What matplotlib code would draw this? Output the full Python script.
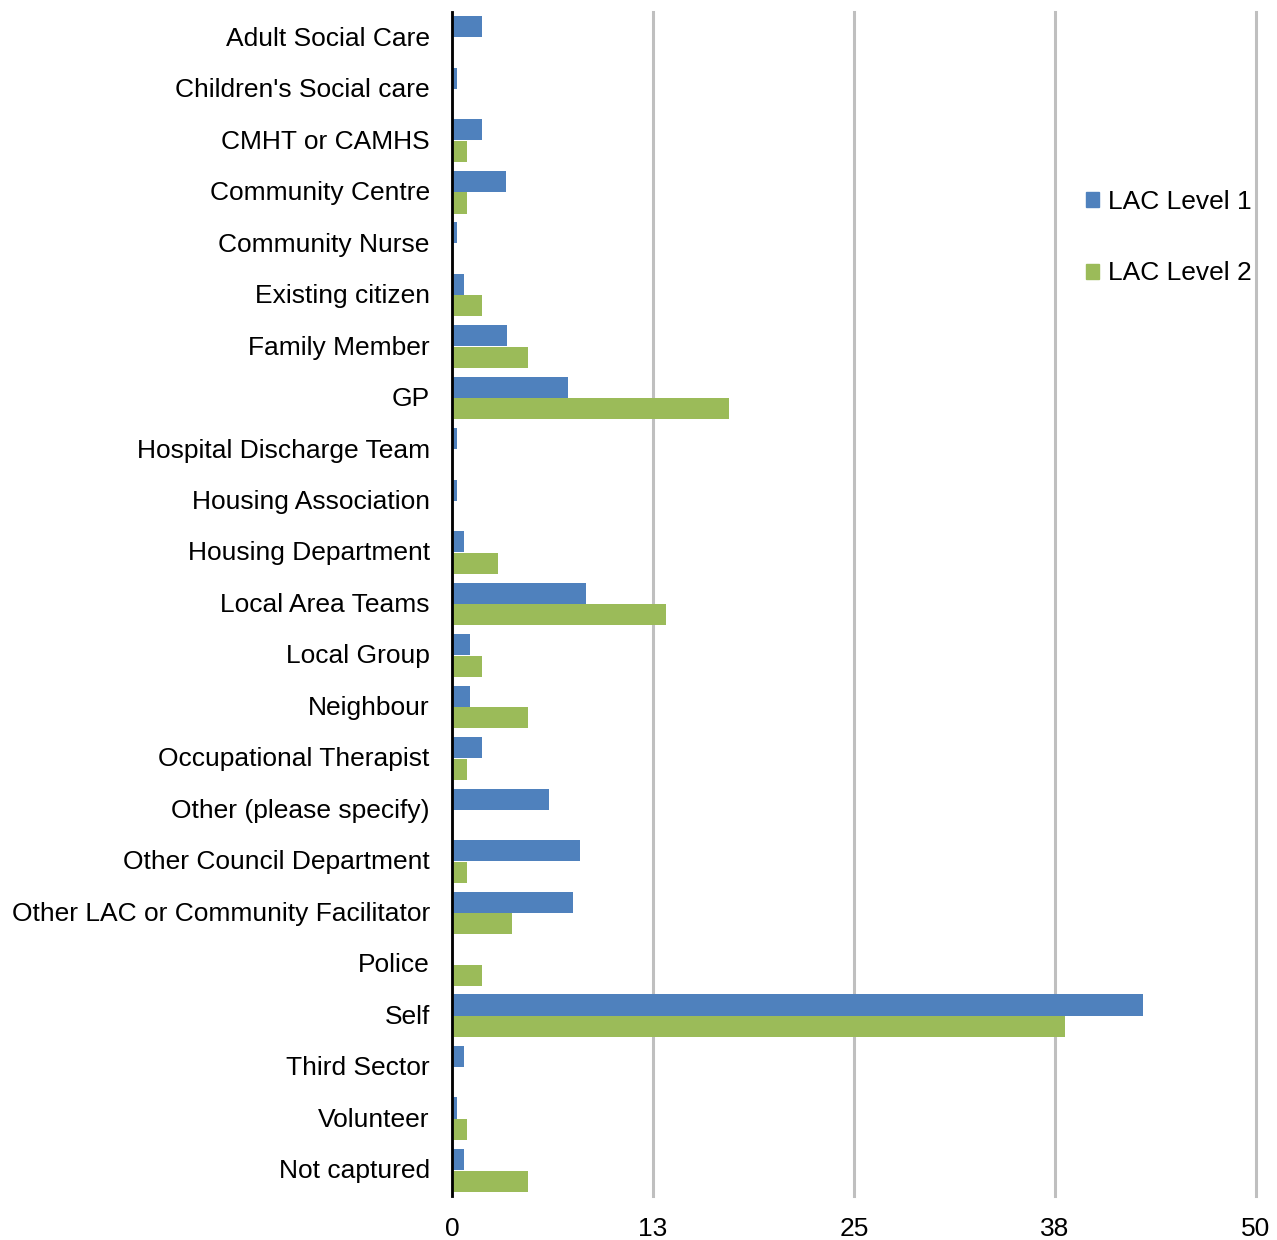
import matplotlib.pyplot as plt
from matplotlib.patches import Patch
import numpy as np

plt.rcParams["font.family"] = ["Liberation Sans", "DejaVu Sans"]

categories = [
    "Adult Social Care", "Children's Social care", "CMHT or CAMHS",
    "Community Centre", "Community Nurse", "Existing citizen",
    "Family Member", "GP", "Hospital Discharge Team", "Housing Association",
    "Housing Department", "Local Area Teams", "Local Group", "Neighbour",
    "Occupational Therapist", "Other (please specify)",
    "Other Council Department", "Other LAC or Community Facilitator",
    "Police", "Self", "Third Sector", "Volunteer", "Not captured",
]
level1 = [1.87, 0.3, 1.87, 3.36, 0.3, 0.75, 3.42, 7.2, 0.3, 0.3,
          0.75, 8.33, 1.12, 1.12, 1.87, 6.03, 7.94, 7.54,
          0.0, 43.0, 0.75, 0.3, 0.75]
level2 = [0.0, 0.0, 0.93, 0.93, 0.0, 1.87, 4.73, 17.2, 0.0, 0.0,
          2.86, 13.3, 1.87, 4.73, 0.93, 0.0, 0.93, 3.75,
          1.87, 38.1, 0.0, 0.93, 4.73]
xticks = [0, 12.5, 25, 37.5, 50]
xtick_labels = ["0", "13", "25", "38", "50"]

blue = "#4F81BD"
green = "#9BBB59"

fig = plt.figure(figsize=(12.77, 12.4), dpi=100)
ax = fig.add_axes([452 / 1277, 1 - 1196 / 1240, 804 / 1277, 1184 / 1240])

y = np.arange(len(categories))
h = 0.41
ax.barh(y - h / 2 - 0.005, level1, height=h, color=blue, label="LAC Level 1", zorder=3)
ax.barh(y + h / 2 + 0.005, level2, height=h, color=green, label="LAC Level 2", zorder=3)

ax.set_ylim(len(categories) - 0.5, -0.5)
ax.set_xlim(0, 50)
ax.set_yticks(y - 0.03)
ax.set_yticklabels(categories, fontsize=19)
ax.set_xticks(xticks)
ax.set_xticklabels(xtick_labels, fontsize=19)
ax.tick_params(axis="y", length=0, pad=16)
ax.tick_params(axis="x", length=0, pad=15)

ax.grid(axis="x", color="#BFBFBF", linewidth=2.2, zorder=0)
for gl in ax.get_xgridlines():
    gl.set_clip_on(False)
for s in ["top", "right", "bottom"]:
    ax.spines[s].set_visible(False)
ax.spines["left"].set_linewidth(2)
ax.spines["left"].set_zorder(4)

handles = [Patch(color=blue), Patch(color=green)]
fig.legend(handles, ["LAC Level 1", "LAC Level 2"], loc="upper left",
           bbox_to_anchor=(1086 / 1277, 1 - 190 / 1240), frameon=False,
           fontsize=19, handlelength=0.5, handleheight=0.5,
           handletextpad=0.35, labelspacing=1.8, borderpad=0, borderaxespad=0)

fig.savefig("out.png", dpi=100)
